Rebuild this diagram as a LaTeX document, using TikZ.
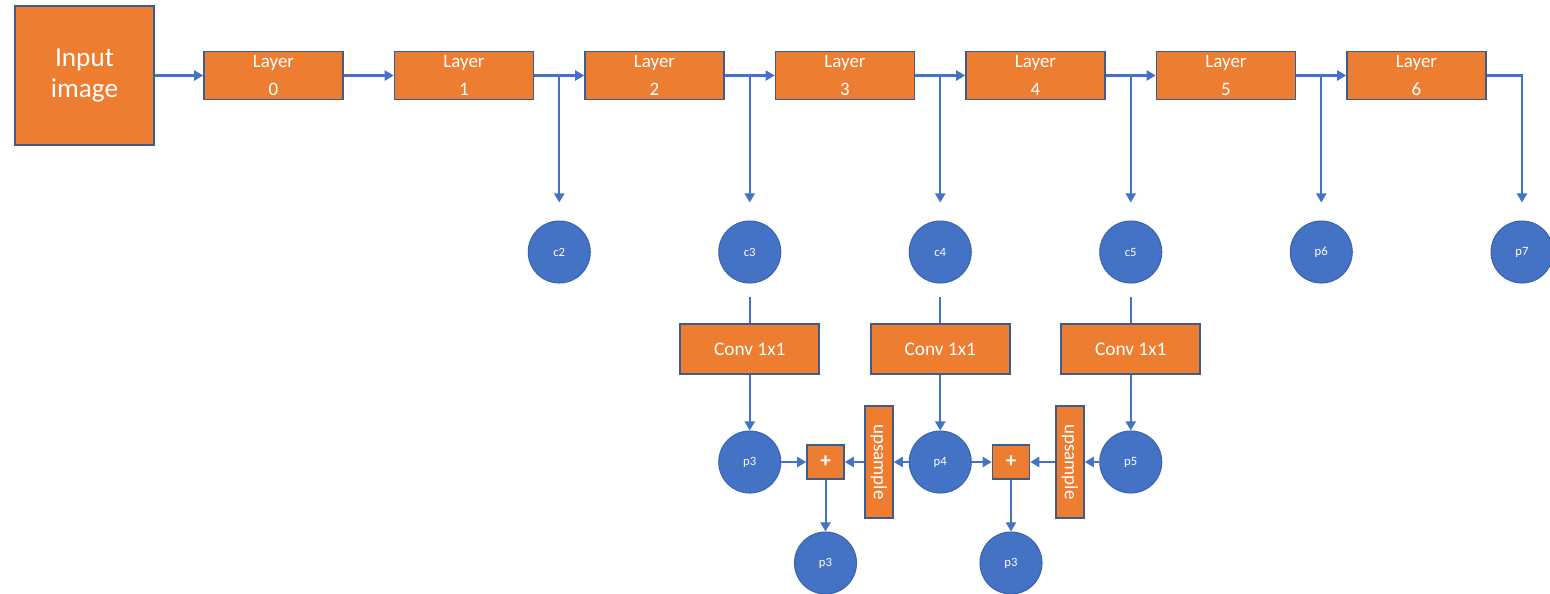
\documentclass[tikz,border=0pt]{standalone}
\usepackage{fontspec}
\setmainfont{Carlito}
\usetikzlibrary{arrows.meta}
\definecolor{boxorange}{HTML}{ED7D31}
\definecolor{boxedge}{HTML}{3E5C8A}
\definecolor{flowblue}{HTML}{4472C4}
\definecolor{circedge}{HTML}{3A64AE}
\tikzset{
  orangebox/.style={draw=boxedge, line width=0.9pt, fill=boxorange, text=white, inner sep=0pt, align=center},
  inbox/.style={orangebox, minimum width=2.78cm, minimum height=2.78cm, font=\fontsize{15.5}{18}\selectfont},
  layerbox/.style={orangebox, minimum width=2.78cm, minimum height=0.96cm, font=\fontsize{10.8}{15.5}\selectfont},
  convbox/.style={orangebox, minimum width=2.78cm, minimum height=1.0cm, font=\fontsize{11}{13}\selectfont},
  plusbox/.style={orangebox, minimum width=0.74cm, minimum height=0.68cm, font=\fontsize{12}{13}\bfseries},
  upbox/.style={orangebox, rotate=-90, minimum width=2.24cm, minimum height=0.56cm, font=\fontsize{10.8}{12}\selectfont},
  featnode/.style={circle, draw=circedge, line width=0.6pt, fill=flowblue, text=white, minimum size=1.24cm, inner sep=0pt, font=\fontsize{7.2}{8}\selectfont},
  flow/.style={draw=flowblue, line width=1.15pt, -{Triangle[width=5.8pt,length=5.2pt]}},
  link/.style={draw=flowblue, line width=1.15pt},
}
\begin{document}
\begin{tikzpicture}[x=0.02cm, y=-0.02cm]
    \useasboundingbox (0,0) rectangle (1550,593);

    % 输入与主干网络
    \node[inbox] (input) at (84.5,75.5) {Input\\image};
    \foreach \i in {0,...,6} {
        \node[layerbox] (layer\i) at ({273.5+190.5*\i},75.5) {Layer\\\i};
    }
    \draw[flow] (input) -- (layer0);
    \foreach \i [evaluate=\i as \j using int(\i+1)] in {0,...,5} {
        \draw[flow] (layer\i) -- (layer\j);
    }

    % 分支输出 c2--c5, p6
    \foreach \j/\lab in {2/c2, 3/c3, 4/c4, 5/c5, 6/p6} {
        \pgfmathsetmacro{\bx}{178.25+190.5*\j}
        \node[featnode] (\lab) at (\bx,252) {\lab};
        \coordinate (tap\j) at (\bx,75.5);
        \draw[flow] (tap\j) -- ([yshift=0.36cm]\lab.north);
    }
    \node[featnode] (p7) at (1522,252) {p7};
    \draw[flow] (layer6.east) -| ([yshift=0.36cm]p7.north);

    % 1x1 卷积
    \foreach \k in {3,4,5} {
        \pgfmathsetmacro{\bx}{178.25+190.5*\k}
        \node[convbox] (conv\k) at (\bx,349) {Conv 1x1};
        \node[featnode] (p\k) at (\bx,462) {p\k};
        \draw[link] ([yshift=-0.26cm]c\k.south) -- (conv\k.north);
        \draw[flow] (conv\k) -- (p\k);
    }

    % 上采样与相加
    \node[plusbox] (sum3) at (825.5,462) {+};
    \node[plusbox] (sum4) at (1011,462) {+};
    \node[upbox] (up4) at (879,462) {upsample};
    \node[upbox] (up5) at (1070,462) {upsample};
    \node[featnode] (out3) at (825.5,563) {p3};
    \node[featnode] (out4) at (1011,563) {p3};
    \draw[flow] (p3) -- (sum3);
    \draw[flow] (up4) -- (sum3);
    \draw[flow] (p4) -- (up4);
    \draw[flow] (p4) -- (sum4);
    \draw[flow] (up5) -- (sum4);
    \draw[flow] (p5) -- (up5);
    \draw[flow] (sum3) -- (out3);
    \draw[flow] (sum4) -- (out4);
\end{tikzpicture}
\end{document}
